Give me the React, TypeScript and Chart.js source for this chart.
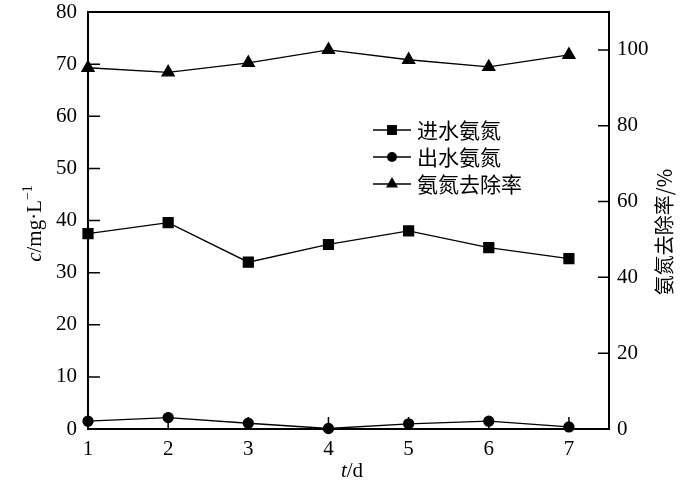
import React, { useEffect, useRef } from 'react';
import { Chart, registerables } from 'chart.js';

Chart.register(...registerables);

const days = [1, 2, 3, 4, 5, 6, 7];
const influentNH = [37.5, 39.6, 32.0, 35.4, 38.0, 34.8, 32.7];
const effluentNH = [1.5, 2.2, 1.1, 0.1, 1.0, 1.5, 0.4];
const removalRate = [95.3, 94.1, 96.6, 100.0, 97.4, 95.5, 98.7];
const seriesNames = ['进水氨氮', '出水氨氮', '氨氮去除率'];
const leftTicks = [0, 10, 20, 30, 40, 50, 60, 70, 80];
const rightTicks = [0, 20, 40, 60, 80, 100];

const FONT = "'Liberation Serif', 'Noto Sans CJK SC', serif";
const CJK = "'Noto Sans CJK SC', 'Liberation Serif', serif";

function drawMarker(ctx: CanvasRenderingContext2D, style: string, x: number, y: number, r: number) {
  ctx.beginPath();
  if (style === 'rect') {
    const s = Math.SQRT1_2 * r;
    ctx.rect(x - s, y - s, 2 * s, 2 * s);
  } else if (style === 'triangle') {
    for (let k = 0; k < 3; k++) {
      const a = (k * 2 * Math.PI) / 3;
      const px = x + Math.sin(a) * r;
      const py = y - Math.cos(a) * r;
      if (k === 0) ctx.moveTo(px, py);
      else ctx.lineTo(px, py);
    }
    ctx.closePath();
  } else {
    ctx.arc(x, y, r, 0, Math.PI * 2);
  }
  ctx.fill();
}

const decorPlugin = {
  id: 'decor',
  afterDraw(chart: any) {
    const ctx = chart.ctx as CanvasRenderingContext2D;
    const { left, right, top, bottom } = chart.chartArea;
    const xs = chart.scales.x;
    const ys = chart.scales.y;
    const y1 = chart.scales.y1;
    ctx.save();
    ctx.strokeStyle = '#000';
    ctx.fillStyle = '#000';
    // top border
    ctx.lineWidth = 2;
    ctx.beginPath();
    ctx.moveTo(left - 1, top);
    ctx.lineTo(right + 1, top);
    ctx.stroke();
    // inward ticks
    ctx.lineWidth = 1.5;
    ctx.beginPath();
    leftTicks.forEach((v) => {
      const py = ys.getPixelForValue(v);
      ctx.moveTo(left, py);
      ctx.lineTo(left + 12, py);
    });
    rightTicks.forEach((v) => {
      const py = y1.getPixelForValue(v);
      ctx.moveTo(right, py);
      ctx.lineTo(right - 11, py);
    });
    days.forEach((v) => {
      const px = xs.getPixelForValue(v);
      ctx.moveTo(px, bottom);
      ctx.lineTo(px, bottom - 12);
    });
    ctx.stroke();

    // left title
    ctx.save();
    ctx.translate(41, (top + bottom) / 2 + 3);
    ctx.rotate(-Math.PI / 2);
    ctx.textBaseline = 'alphabetic';
    const parts = [
      { t: 'c', f: `italic 21px ${FONT}`, dy: 0 },
      { t: '/mg·L', f: `21px ${FONT}`, dy: 0 },
      { t: '−1', f: `14px ${FONT}`, dy: -9 },
    ];
    let total = 0;
    parts.forEach((p) => {
      ctx.font = p.f;
      total += ctx.measureText(p.t).width;
    });
    let cx = -total / 2;
    parts.forEach((p) => {
      ctx.font = p.f;
      ctx.fillText(p.t, cx, p.dy);
      cx += ctx.measureText(p.t).width;
    });
    ctx.restore();

    // right title
    ctx.save();
    ctx.translate(664, 232);
    ctx.rotate(-Math.PI / 2);
    ctx.textBaseline = 'middle';
    ctx.textAlign = 'center';
    ctx.font = `20px ${CJK}`;
    ctx.fillText('氨氮去除率/%', 0, 0);
    ctx.restore();

    // x title
    ctx.textBaseline = 'alphabetic';
    const xp = [
      { t: 't', f: `italic 21px ${FONT}` },
      { t: '/d', f: `21px ${FONT}` },
    ];
    let w = 0;
    xp.forEach((p) => {
      ctx.font = p.f;
      w += ctx.measureText(p.t).width;
    });
    let xx = 352 - w / 2;
    xp.forEach((p) => {
      ctx.font = p.f;
      ctx.fillText(p.t, xx, 477);
      xx += ctx.measureText(p.t).width;
    });

    // legend
    const styles = ['rect', 'circle', 'triangle'];
    const radii = [7, 5, 7];
    ctx.font = `21px ${CJK}`;
    ctx.textBaseline = 'middle';
    ctx.textAlign = 'left';
    seriesNames.forEach((name, i) => {
      const ly = 130 + 27 * i;
      ctx.lineWidth = 1.3;
      ctx.beginPath();
      ctx.moveTo(373, ly);
      ctx.lineTo(411, ly);
      ctx.stroke();
      drawMarker(ctx, styles[i], 392, ly, radii[i]);
      ctx.fillText(name, 417, ly);
    });
    ctx.restore();
  },
};

export default function App() {
  const ref = useRef<HTMLCanvasElement>(null);
  useEffect(() => {
    document.body.style.margin = '0';
    const canvas = ref.current;
    if (!canvas) return;
    const mk = (vals: number[]) => days.map((d, i) => ({ x: d, y: vals[i] }));
    const common = {
      borderColor: '#000',
      backgroundColor: '#000',
      pointBackgroundColor: '#000',
      pointBorderColor: '#000',
      borderWidth: 1.3,
      tension: 0,
      clip: false as any,
    };
    const tickFont = { family: FONT, size: 21 };
    const chart = new Chart(canvas, {
      type: 'line',
      data: {
        datasets: [
          { ...common, label: seriesNames[0], data: mk(influentNH), yAxisID: 'y', pointStyle: 'rect', pointRadius: 7 },
          { ...common, label: seriesNames[1], data: mk(effluentNH), yAxisID: 'y', pointStyle: 'circle', pointRadius: 5 },
          { ...common, label: seriesNames[2], data: mk(removalRate), yAxisID: 'y1', pointStyle: 'triangle', pointRadius: 7 },
        ],
      },
      options: {
        responsive: false,
        animation: false,
        layout: { padding: { top: 12, left: 0, right: 0, bottom: 0 } },
        plugins: { legend: { display: false }, tooltip: { enabled: false } },
        scales: {
          x: {
            type: 'linear',
            min: 1,
            max: 7.5,
            afterBuildTicks: (s: any) => {
              s.ticks = days.map((v) => ({ value: v }));
            },
            afterFit: (s: any) => {
              s.height = 56;
              s.paddingLeft = 0;
              s.paddingRight = 0;
            },
            grid: { display: false, drawTicks: false },
            border: { display: true, color: '#000', width: 2 },
            ticks: { color: '#000', font: tickFont, padding: 8 },
          },
          y: {
            position: 'left',
            min: 0,
            max: 80,
            afterBuildTicks: (s: any) => {
              s.ticks = leftTicks.map((v) => ({ value: v }));
            },
            afterFit: (s: any) => {
              s.width = 88;
              s.paddingTop = 0;
              s.paddingBottom = 0;
            },
            grid: { display: false, drawTicks: false },
            border: { display: true, color: '#000', width: 2 },
            ticks: { color: '#000', font: tickFont, padding: 11 },
          },
          y1: {
            position: 'right',
            min: 0,
            max: 110,
            afterBuildTicks: (s: any) => {
              s.ticks = rightTicks.map((v) => ({ value: v }));
            },
            afterFit: (s: any) => {
              s.width = 91;
              s.paddingTop = 0;
              s.paddingBottom = 0;
            },
            grid: { display: false, drawTicks: false },
            border: { display: true, color: '#000', width: 2 },
            ticks: { color: '#000', font: tickFont, padding: 8 },
          },
        },
      },
      plugins: [decorPlugin],
    });
    return () => chart.destroy();
  }, []);
  return (
    <canvas
      ref={ref}
      width={700}
      height={485}
      style={{ position: 'fixed', left: 0, top: 0, width: 700, height: 485, background: '#fff' }}
    />
  );
}
